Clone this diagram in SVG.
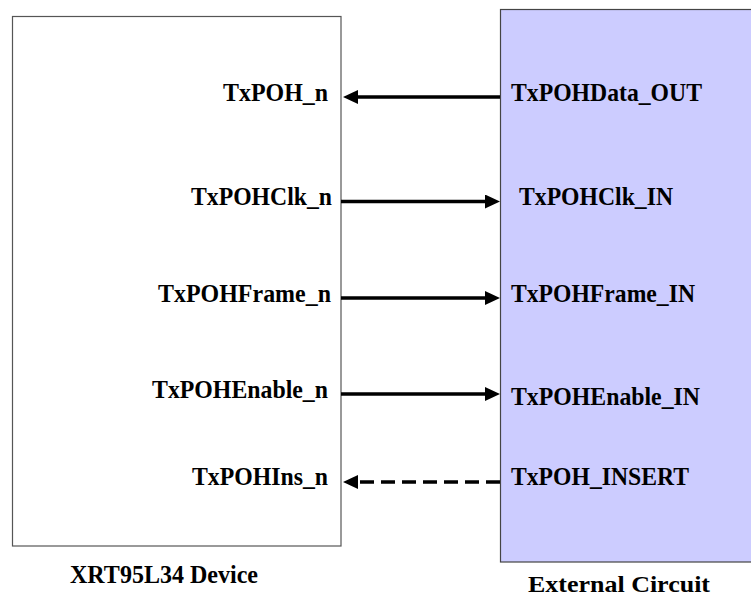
<svg xmlns="http://www.w3.org/2000/svg" width="751" height="598" viewBox="0 0 751 598">
<style>
  text { font-family: "Liberation Serif", "Times New Roman", serif; font-weight: bold; font-size: 25px; fill: #000; }
  .l { text-anchor: end; }
  .conn { stroke: #000; stroke-width: 3.5; fill: none; marker-end: url(#ah); }
  .dash { stroke-dasharray: 14 7; }
</style>
<defs>
  <marker id="ah" viewBox="0 0 15 14" markerWidth="15" markerHeight="14" refX="1" refY="7" orient="auto" markerUnits="userSpaceOnUse">
    <path d="M0,0 L15,7 L0,14 z" fill="#000"/>
  </marker>
</defs>
<rect width="751" height="598" fill="#fff"/>
<g id="device">
  <rect x="12.5" y="16.5" width="328.5" height="529.5" fill="#fff" stroke="#555" stroke-width="1.2"/>
  <text class="l" x="328" y="101" textLength="105" lengthAdjust="spacingAndGlyphs">TxPOH_n</text>
  <text class="l" x="332" y="205" textLength="141" lengthAdjust="spacingAndGlyphs">TxPOHClk_n</text>
  <text class="l" x="331" y="302" textLength="173" lengthAdjust="spacingAndGlyphs">TxPOHFrame_n</text>
  <text class="l" x="328" y="398" textLength="176" lengthAdjust="spacingAndGlyphs">TxPOHEnable_n</text>
  <text class="l" x="328" y="485" textLength="136" lengthAdjust="spacingAndGlyphs">TxPOHIns_n</text>
  <text x="70" y="583" textLength="188" lengthAdjust="spacingAndGlyphs">XRT95L34 Device</text>
</g>
<g id="external">
  <rect x="500.5" y="9.5" width="262" height="552.5" fill="#ccccff" stroke="#444" stroke-width="1.2"/>
  <text x="511" y="101" textLength="191" lengthAdjust="spacingAndGlyphs">TxPOHData_OUT</text>
  <text x="519" y="205" textLength="154" lengthAdjust="spacingAndGlyphs">TxPOHClk_IN</text>
  <text x="511" y="302" textLength="184" lengthAdjust="spacingAndGlyphs">TxPOHFrame_IN</text>
  <text x="511" y="405" textLength="189" lengthAdjust="spacingAndGlyphs">TxPOHEnable_IN</text>
  <text x="511" y="485" textLength="178" lengthAdjust="spacingAndGlyphs">TxPOH_INSERT</text>
  <text x="528" y="592" textLength="182" lengthAdjust="spacingAndGlyphs" style="font-size:24px">External Circuit</text>
</g>
<g id="connectors">
  <path class="conn" d="M500,97 L357,97"/>
  <path class="conn" d="M341,201.5 L486,201.5"/>
  <path class="conn" d="M341,298 L486,298"/>
  <path class="conn" d="M341,394 L486,394"/>
  <path class="conn dash" d="M500,482 L357,482"/>
</g>
</svg>
